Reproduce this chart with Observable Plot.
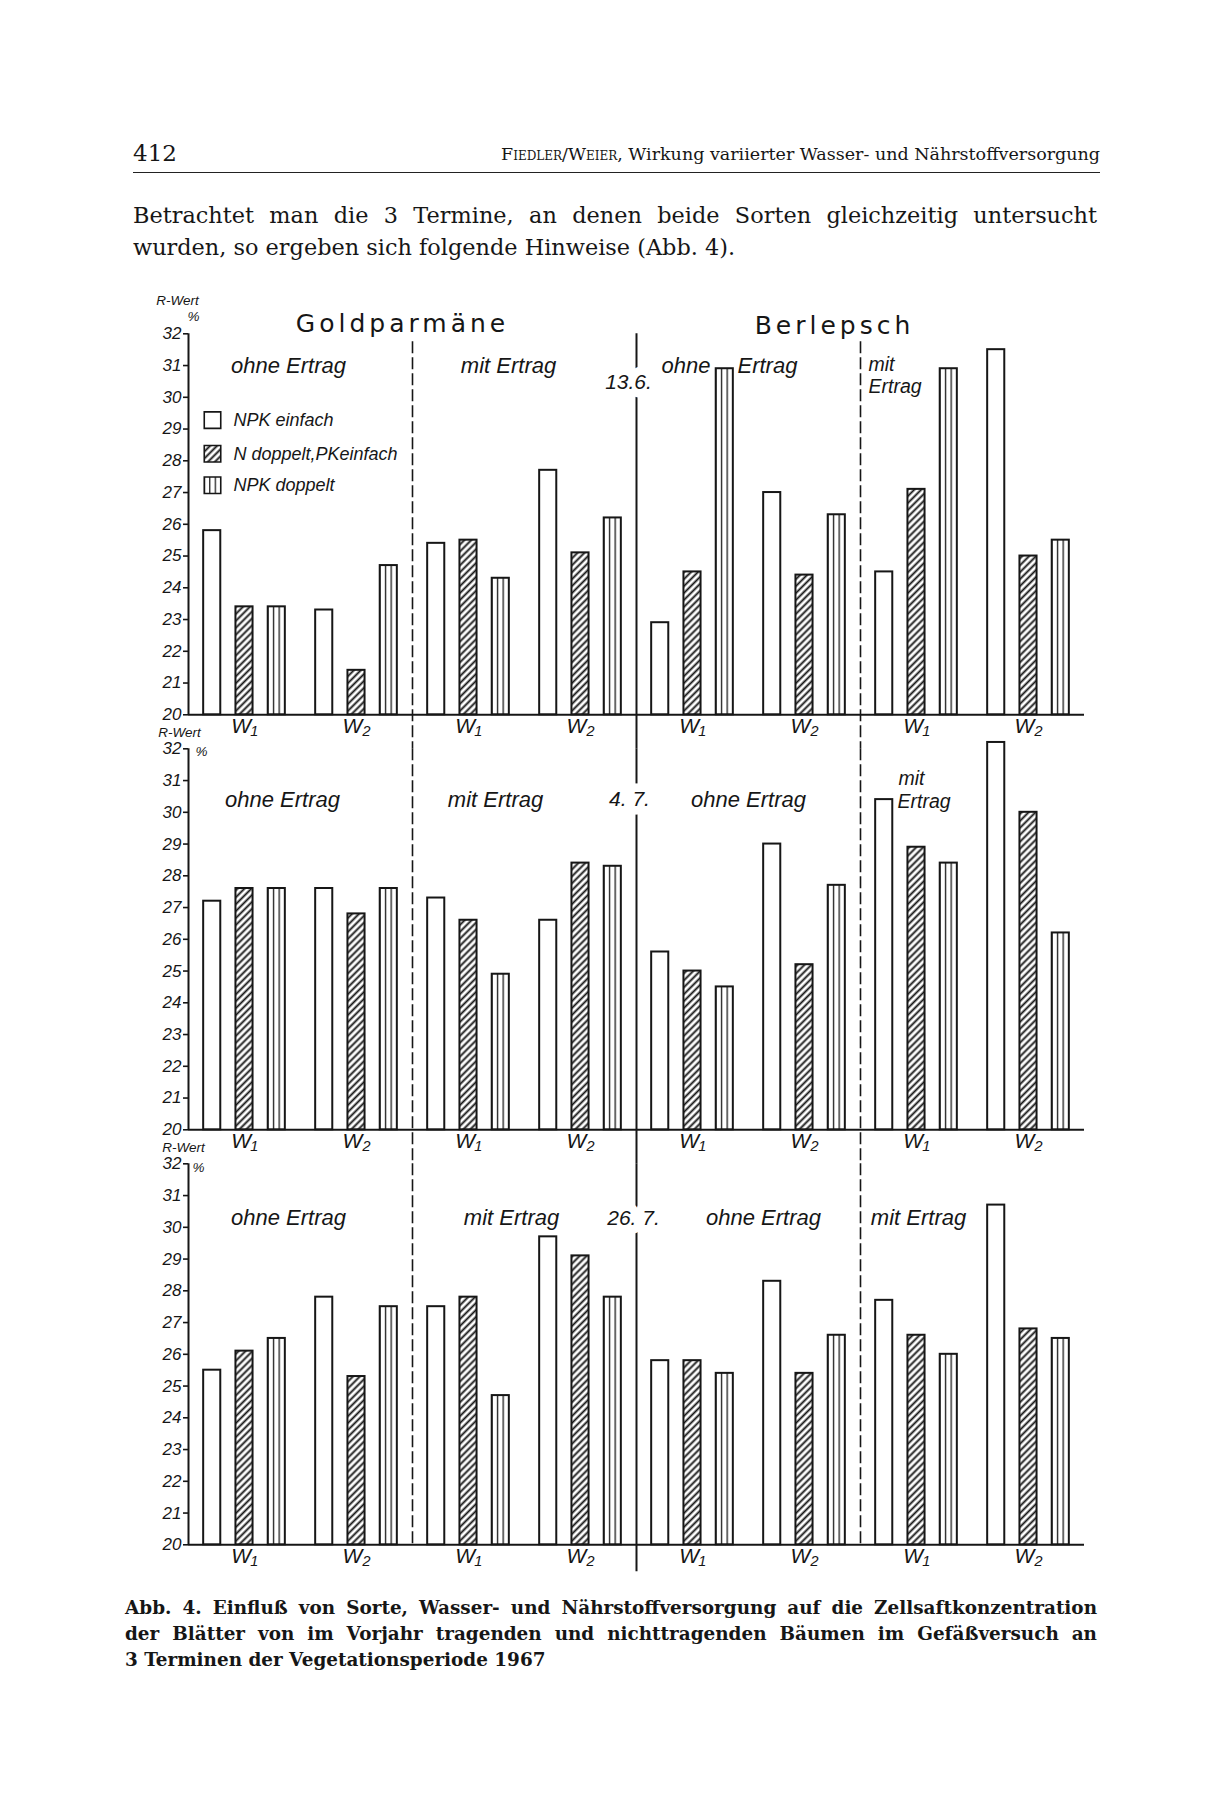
<!DOCTYPE html>
<html><head><meta charset="utf-8">
<script src="https://cdn.jsdelivr.net/npm/d3@7"></script>
<script src="https://cdn.jsdelivr.net/npm/@observablehq/plot@0.6"></script>
<style>
html,body{margin:0;padding:0;background:#fff;}
#page{position:relative;width:1221px;height:1812px;background:#fff;overflow:hidden;color:#161616;}
.serif{font-family:"DejaVu Serif","Liberation Serif",serif;}
#pno{position:absolute;left:133px;top:139px;font-size:23px;line-height:28px;}
#rhead{position:absolute;right:121px;top:143px;font-size:17.5px;line-height:22px;white-space:nowrap;}
#rule{position:absolute;left:133px;top:172px;width:967px;height:0;border-top:1.6px solid #222;}
#para{position:absolute;left:133px;top:199px;width:964px;font-size:22.4px;line-height:32px;}
#cap{position:absolute;left:125px;top:1595px;width:972px;font-size:18.4px;line-height:26px;font-weight:bold;}
.j{text-align:justify;text-align-last:justify;}
#host{position:absolute;left:0;top:285px;}
</style></head>
<body>
<svg width="0" height="0" style="position:absolute">
  <defs>
    <pattern id="hatch" patternUnits="userSpaceOnUse" width="4.9" height="10" patternTransform="rotate(45)">
      <rect width="4.9" height="10" fill="white"/>
      <line x1="2.45" y1="0" x2="2.45" y2="10" stroke="#161616" stroke-width="1.9"/>
    </pattern>
    <pattern id="vert" patternUnits="objectBoundingBox" patternContentUnits="objectBoundingBox" x="-0.035" y="0" width="0.33333" height="1">
      <rect width="0.33333" height="1" fill="white"/>
      <rect x="0" y="0" width="0.075" height="1" fill="#161616"/>
    </pattern>
  </defs>
</svg>
<div id="page">
  <div id="pno" class="serif">412</div>
  <div id="rhead" class="serif"><span style="font-variant:small-caps">Fiedler/Weier</span>, Wirkung variierter Wasser- und Nährstoffversorgung</div>
  <div id="rule"></div>
  <div id="para" class="serif"><div class="j">Betrachtet man die 3 Termine, an denen beide Sorten gleichzeitig untersucht</div><div>wurden, so ergeben sich folgende Hinweise (Abb. 4).</div></div>
  <div id="host"></div>
  <div id="cap" class="serif"><div class="j">Abb. 4. Einfluß von Sorte, Wasser- und Nährstoffversorgung auf die Zellsaftkonzentration</div><div class="j">der Blätter von im Vorjahr tragenden und nichttragenden Bäumen im Gefäßversuch an</div><div>3 Terminen der Vegetationsperiode 1967</div></div>
</div>
<script>
// ---------- data ----------
const dates = ["13.6.", "4. 7.", "26. 7."];
const varieties = ["Goldparmäne", "Berlepsch"];
const yieldLabels = ["ohne Ertrag", "mit Ertrag"];
const waterLevels = ["W₁", "W₂"];
const treatments = ["NPK einfach", "N doppelt,PKeinfach", "NPK doppelt"];
const yTicks = [20, 21, 22, 23, 24, 25, 26, 27, 28, 29, 30, 31, 32];
// R-Wert (%) per date, order: variety > yield > water > treatment
const rWert_13_6 = [25.8, 23.4, 23.4, 23.3, 21.4, 24.7, 25.4, 25.5, 24.3, 27.7, 25.1, 26.2,
                    22.9, 24.5, 30.9, 27.0, 24.4, 26.3, 24.5, 27.1, 30.9, 31.5, 25.0, 25.5];
const rWert_4_7  = [27.2, 27.6, 27.6, 27.6, 26.8, 27.6, 27.3, 26.6, 24.9, 26.6, 28.4, 28.3,
                    25.6, 25.0, 24.5, 29.0, 25.2, 27.7, 30.4, 28.9, 28.4, 32.2, 30.0, 26.2];
const rWert_26_7 = [25.5, 26.1, 26.5, 27.8, 25.3, 27.5, 27.5, 27.8, 24.7, 29.7, 29.1, 27.8,
                    25.8, 25.8, 25.4, 28.3, 25.4, 26.6, 27.7, 26.6, 26.0, 30.7, 26.8, 26.5];
const seriesByDate = [rWert_13_6, rWert_4_7, rWert_26_7];

// ---------- build tables ----------
const groups = [];
varieties.forEach(v => yieldLabels.forEach(y => waterLevels.forEach(w => groups.push({key: `${v}|${y}|${w}`, water: w}))));
const groupKeys = groups.map(g => g.key);
const rows = [];
dates.forEach((d, di) => groups.forEach((g, gi) => treatments.forEach((t, ti) =>
  rows.push({date: d, group: g.key, treat: t, value: seriesByDate[di][gi * 3 + ti]}))));
const waterRows = [];
dates.forEach(d => groups.forEach(g => waterRows.push({date: d, group: g.key, label: g.water})));

// ---------- layout ----------
const W = 1221, H = 1290, mL = 188, mR = 137, mT = 48.3, mB = 30.7;
const pIn = 0.47, pOut = 0.47;
const facetW = (W - mL - mR) / groupKeys.length;
const xStep = facetW / (treatments.length - pIn + 2 * pOut);
const edgeDx = -(pOut * xStep + (1 - pIn) * xStep / 2); // from first band centre to facet edge
const ink = "#161616";
const handFont = "'Liberation Sans', Arial, sans-serif";

const N = (p, g, y, dx, anchor, text, kind) => ({date: dates[p], group: groupKeys[g], y, dx, anchor, text, kind});
const notes = [
  N(0, 2, 32.32, -10, "middle", varieties[0], "title"),
  N(0, 6, 32.26, -26, "middle", varieties[1], "title"),
  N(0, 1, 31.0, -12, "middle", yieldLabels[0], "lab"),
  N(0, 3, 31.0, -16, "middle", yieldLabels[1], "lab"),
  N(0, 4, 30.47, -8, "middle", dates[0], "date"),
  N(0, 4, 31.0, 74, "end", "ohne", "lab"),
  N(0, 4, 31.0, 101, "start", "Ertrag", "lab"),
  N(0, 6, 31.03, 8, "start", "mit", "lab2"),
  N(0, 6, 30.33, 8, "start", "Ertrag", "lab2"),
  N(0, 0, 33.05, -11, "middle", "R-Wert", "unit"),
  N(0, 0, 32.55, 5, "middle", "%", "unit"),
  N(1, 1, 30.4, -18, "middle", yieldLabels[0], "lab"),
  N(1, 3, 30.4, -29, "middle", yieldLabels[1], "lab"),
  N(1, 4, 30.4, -7, "middle", dates[1], "date"),
  N(1, 5, 30.4, 0, "middle", yieldLabels[0], "lab"),
  N(1, 6, 31.05, 38, "start", "mit", "lab2"),
  N(1, 6, 30.34, 37, "start", "Ertrag", "lab2"),
  N(1, 0, 32.5, -9, "middle", "R-Wert", "unit"),
  N(1, 0, 31.92, 13, "middle", "%", "unit"),
  N(2, 1, 30.3, -12, "middle", yieldLabels[0], "lab"),
  N(2, 3, 30.3, -13, "middle", yieldLabels[1], "lab"),
  N(2, 4, 30.3, -3, "middle", dates[2], "date"),
  N(2, 5, 30.3, 15, "middle", yieldLabels[0], "lab"),
  N(2, 6, 30.3, 58, "middle", yieldLabels[1], "lab"),
  N(2, 0, 32.52, -5, "middle", "R-Wert", "unit"),
  N(2, 0, 31.87, 10, "middle", "%", "unit")
];
const kindStyle = {
  title: {fontSize: 25, fontStyle: "normal", fontFamily: "'DejaVu Sans', sans-serif"},
  lab: {fontSize: 22},
  lab2: {fontSize: 19.5},
  date: {fontSize: 21, stroke: "white", strokeWidth: 17, paintOrder: "stroke"},
  unit: {fontSize: 13.5}
};
const legendRowY = [29.28, 28.22, 27.23];
const legendRows = treatments.map((t, i) => ({t, date: dates[0], group: groupKeys[0], y: legendRowY[i]}));

// separators: y-axis line, dashed (ohne|mit), solid (Goldparmäne|Berlepsch)
const sepSpec = [
  {g: 0, kind: "axis"}, {g: 2, kind: "dash"}, {g: 4, kind: "solid"}, {g: 6, kind: "dash"}
];
const sepMarks = [];
dates.forEach((d, p) => sepSpec.forEach(s => {
  let insetTop = 0, insetBottom = 0;
  if (s.kind !== "axis") {
    if (p === 0 && s.kind === "dash") insetTop = 8;
    insetBottom = p < 2 ? -34 : (s.kind === "solid" ? -27 : -3);
  }
  sepMarks.push(Plot.ruleX([{date: d, group: groupKeys[s.g]}], {
    fx: "group", fy: "date", x: () => treatments[0], dx: edgeDx,
    stroke: ink, strokeWidth: s.kind === "dash" ? 1.6 : 2,
    strokeDasharray: s.kind === "dash" ? "12,4" : null,
    insetTop, insetBottom
  }));
}));

const chart = Plot.plot({
  width: W, height: H,
  marginLeft: mL, marginRight: mR, marginTop: mT, marginBottom: mB,
  style: {background: "transparent", fontFamily: handFont, fontSize: "17px", fontStyle: "italic", color: ink, overflow: "visible"},
  fx: {domain: groupKeys, paddingInner: 0, paddingOuter: 0, round: false, axis: null},
  fy: {domain: dates, paddingInner: 0.082, paddingOuter: 0, round: false, axis: null},
  x: {domain: treatments, paddingInner: pIn, paddingOuter: pOut, round: false, axis: null},
  y: {domain: [yTicks[0], yTicks[yTicks.length - 1]], ticks: yTicks, tickSize: 5, tickPadding: 2, label: null, tickFormat: d => String(d)},
  color: {type: "ordinal", domain: treatments, range: ["white", "url(#hatch)", "url(#vert)"]},
  marks: [
    Plot.ruleY([yTicks[0]], {stroke: ink, strokeWidth: 2}),
    Plot.barY(rows, {fx: "group", fy: "date", x: "treat", y1: yTicks[0], y2: "value", fill: "treat", stroke: ink, strokeWidth: 2, inset: 0}),
    ...sepMarks,
    Plot.text(waterRows, {fx: "group", fy: "date", text: "label", frameAnchor: "bottom", dy: 18, fontSize: 21, fill: ink}),
    ...notes.map(n => Plot.text([n], {fx: "group", fy: "date", y: "y", text: "text", frameAnchor: "left", dx: n.dx, textAnchor: n.anchor, fill: ink, ...kindStyle[n.kind]})),
    ...legendRows.map(r => Plot.dot([r], {fx: "group", fy: "date", y: "y", frameAnchor: "left", dx: 24, symbol: "square", r: 9.3, fill: "t", stroke: ink, strokeWidth: 1.6})),
    ...legendRows.map(r => Plot.text([r], {fx: "group", fy: "date", y: "y", text: "t", frameAnchor: "left", dx: 45, textAnchor: "start", fontSize: 18, fill: ink}))
  ]
});
d3.select(chart).selectAll("text").filter(function() { return varieties.includes(this.textContent); })
  .attr("letter-spacing", "4px");
d3.select(chart).selectAll("text").filter(function() { return dates.includes(this.textContent); })
  .attr("paint-order", "stroke").attr("stroke", "white").attr("stroke-width", 17).attr("stroke-linejoin", "round");
d3.select(chart).selectAll("[aria-label='y-axis tick'] path, [aria-label='y-axis tick']").attr("stroke-width", 1.6);
document.getElementById("host").append(chart);
</script>
</body></html>
